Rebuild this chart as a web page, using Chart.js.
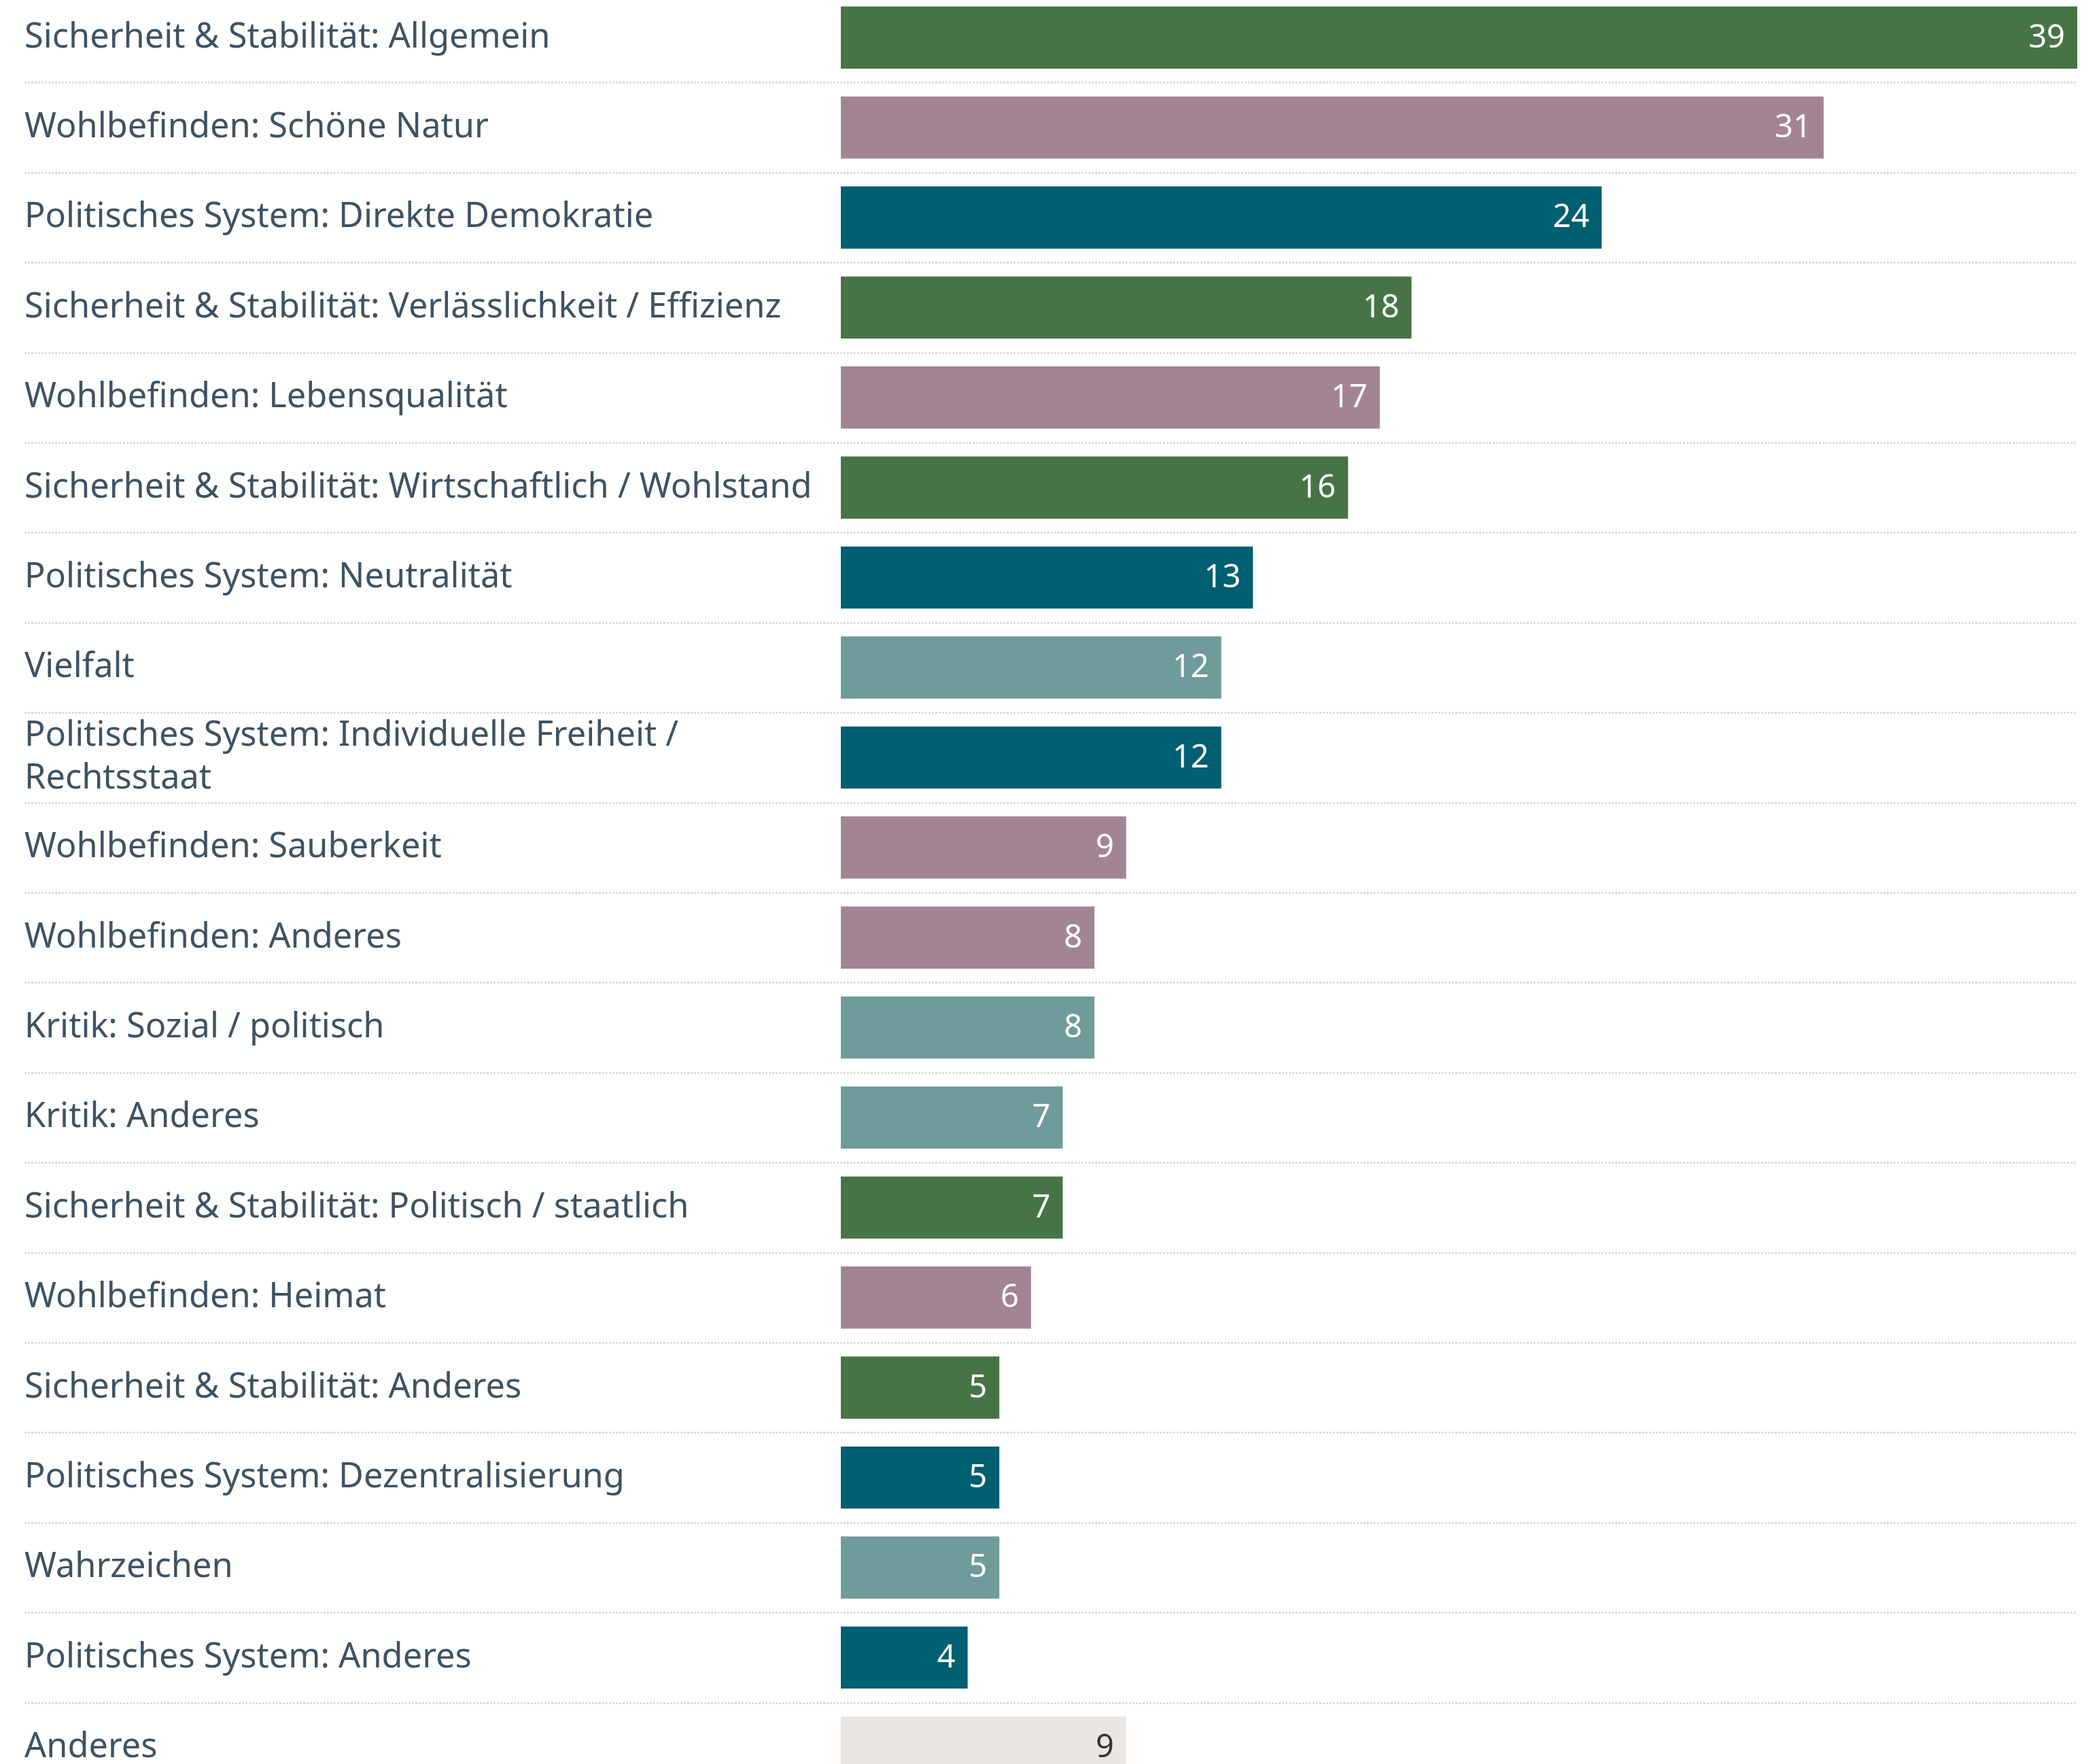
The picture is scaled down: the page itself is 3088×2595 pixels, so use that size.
<!DOCTYPE html>
<html>
<head>
<meta charset="utf-8">
<script src="https://cdn.jsdelivr.net/npm/chart.js@4/dist/chart.umd.min.js"></script>
<style>
html,body{margin:0;padding:0;background:#fff;overflow:hidden;width:3088px;height:2595px;}
#c{position:absolute;left:0;top:-11px;}
</style>
</head>
<body>
<canvas id="c" width="3088" height="2648"></canvas>
<script>
const categories = [
  "Sicherheit & Stabilität: Allgemein",
  "Wohlbefinden: Schöne Natur",
  "Politisches System: Direkte Demokratie",
  "Sicherheit & Stabilität: Verlässlichkeit / Effizienz",
  "Wohlbefinden: Lebensqualität",
  "Sicherheit & Stabilität: Wirtschaftlich / Wohlstand",
  "Politisches System: Neutralität",
  "Vielfalt",
  ["Politisches System: Individuelle Freiheit /", "Rechtsstaat"],
  "Wohlbefinden: Sauberkeit",
  "Wohlbefinden: Anderes",
  "Kritik: Sozial / politisch",
  "Kritik: Anderes",
  "Sicherheit & Stabilität: Politisch / staatlich",
  "Wohlbefinden: Heimat",
  "Sicherheit & Stabilität: Anderes",
  "Politisches System: Dezentralisierung",
  "Wahrzeichen",
  "Politisches System: Anderes",
  "Anderes"
];
const values = [39, 31, 24, 18, 17, 16, 13, 12, 12, 9, 8, 8, 7, 7, 6, 5, 5, 5, 4, 9];
const groups = ["sicherheit","wohlbefinden","politik","sicherheit","wohlbefinden","sicherheit","politik","vielfalt","politik","wohlbefinden","wohlbefinden","vielfalt","vielfalt","sicherheit","wohlbefinden","sicherheit","politik","vielfalt","politik","anderes"];
const groupColors = {
  sicherheit: "#477445",
  wohlbefinden: "#a38495",
  politik: "#005f70",
  vielfalt: "#6f9b9a",
  anderes: "#ebe6e1"
};
const valueTextColors = {anderes: "#333333"};

const FONT = "'Noto Sans', 'Open Sans', sans-serif";

const rowLines = {
  id: 'rowLines',
  beforeDatasetsDraw(chart) {
    const y = chart.scales.y, ctx = chart.ctx;
    const n = categories.length;
    ctx.save();
    ctx.strokeStyle = '#d3d8dc';
    ctx.lineWidth = 2.5;
    ctx.setLineDash([3, 2]);
    for (let i = 0; i < n - 1; i++) {
      const yy = Math.round((y.getPixelForValue(i) + y.getPixelForValue(i + 1)) / 2) + 0.5;
      ctx.beginPath();
      ctx.moveTo(36, yy);
      ctx.lineTo(chart.chartArea.right, yy);
      ctx.stroke();
    }
    ctx.restore();
  }
};

const valueLabels = {
  id: 'valueLabels',
  afterDatasetsDraw(chart) {
    const ctx = chart.ctx;
    const meta = chart.getDatasetMeta(0);
    ctx.save();
    ctx.font = "47px " + FONT;
    ctx.textAlign = 'right';
    ctx.textBaseline = 'middle';
    meta.data.forEach((bar, i) => {
      ctx.fillStyle = valueTextColors[groups[i]] || '#ffffff';
      ctx.fillText(String(values[i]), bar.x - 18, bar.y + 1);
    });
    ctx.restore();
  }
};

new Chart(document.getElementById('c'), {
  type: 'bar',
  data: {
    labels: categories,
    datasets: [{
      data: values,
      backgroundColor: groups.map(g => groupColors[g]),
      borderWidth: 0,
      barPercentage: 0.69,
      categoryPercentage: 1.0
    }]
  },
  options: {
    indexAxis: 'y',
    responsive: false,
    animation: false,
    layout: {padding: {left: 36, right: 32, top: 0, bottom: 0}},
    plugins: {legend: {display: false}, tooltip: {enabled: false}},
    scales: {
      x: {display: false, min: 0, max: 39},
      y: {
        border: {display: false},
        grid: {display: false, drawTicks: false},
        ticks: {
          crossAlign: 'far',
          padding: 0,
          color: '#3f5262',
          font: {family: FONT, size: 50.5, lineHeight: 1.25},
          autoSkip: false
        },
        afterFit(scale) {
          scale.width = 1201;
          scale.paddingTop = 0;
          scale.paddingBottom = 0;
        }
      }
    }
  },
  plugins: [rowLines, valueLabels]
});
</script>
</body>
</html>
